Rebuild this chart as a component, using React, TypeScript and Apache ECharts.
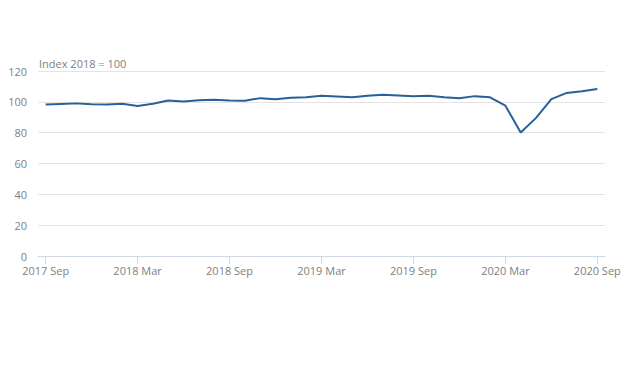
import React, { useEffect, useRef } from "react";
import * as echarts from "echarts";

const months = [
  "2017 Sep", "2017 Oct", "2017 Nov", "2017 Dec",
  "2018 Jan", "2018 Feb", "2018 Mar", "2018 Apr", "2018 May", "2018 Jun",
  "2018 Jul", "2018 Aug", "2018 Sep", "2018 Oct", "2018 Nov", "2018 Dec",
  "2019 Jan", "2019 Feb", "2019 Mar", "2019 Apr", "2019 May", "2019 Jun",
  "2019 Jul", "2019 Aug", "2019 Sep", "2019 Oct", "2019 Nov", "2019 Dec",
  "2020 Jan", "2020 Feb", "2020 Mar", "2020 Apr", "2020 May", "2020 Jun",
  "2020 Jul", "2020 Aug", "2020 Sep",
];

const indexValues = [
  98.2, 98.6, 99.0, 98.5,
  98.3, 98.8, 97.3, 98.8, 100.8, 100.2,
  101.0, 101.4, 100.9, 100.7, 102.4, 101.7,
  102.6, 102.9, 104.0, 103.5, 103.0, 104.0,
  104.6, 104.1, 103.6, 103.9, 102.9, 102.3,
  103.7, 102.9, 97.5, 80.1, 89.6, 101.8,
  105.8, 106.8, 108.3,
];

const yTicks = { min: 0, max: 120, interval: 20 };
const unitLabel = "Index 2018 = 100";

export default function App() {
  const ref = useRef<HTMLDivElement>(null);
  useEffect(() => {
    if (!ref.current) return;
    const chart = echarts.init(ref.current, undefined, { renderer: "svg" });
    const font = "'Open Sans', 'Noto Sans', sans-serif";
    chart.setOption({
      animation: false,
      backgroundColor: "#ffffff",
      textStyle: { fontFamily: font },
      title: {
        text: unitLabel,
        left: 39,
        top: 58,
        padding: 0,
        textStyle: { fontSize: 11, fontWeight: "normal", color: "#808080", fontFamily: font },
      },
      grid: { left: 38, right: 33, top: 71, bottom: 112, containLabel: false },
      xAxis: {
        type: "category",
        data: months,
        boundaryGap: true,
        axisLine: { lineStyle: { color: "#cfd9e6", width: 1 } },
        axisTick: {
          show: true,
          alignWithLabel: true,
          interval: 5,
          length: 8,
          lineStyle: { color: "#cfd9e6", width: 1 },
        },
        axisLabel: {
          interval: 5,
          color: "#808080",
          fontSize: 11,
          margin: 9,
          fontFamily: font,
        },
        splitLine: { show: false },
      },
      yAxis: {
        type: "value",
        min: yTicks.min,
        max: yTicks.max,
        interval: yTicks.interval,
        axisLine: { show: false },
        axisTick: { show: false },
        axisLabel: { color: "#808080", fontSize: 11, margin: 11, fontFamily: font },
        splitLine: { lineStyle: { color: "#e4e4e4", width: 1 } },
      },
      series: [
        {
          type: "line",
          data: indexValues,
          symbol: "none",
          lineStyle: { color: "#27609a", width: 2 },
          itemStyle: { color: "#27609a" },
        },
      ],
    });
    return () => chart.dispose();
  }, []);
  return (
    <div
      ref={ref}
      style={{ position: "absolute", left: 0, top: 0, width: 638, height: 368 }}
    />
  );
}
